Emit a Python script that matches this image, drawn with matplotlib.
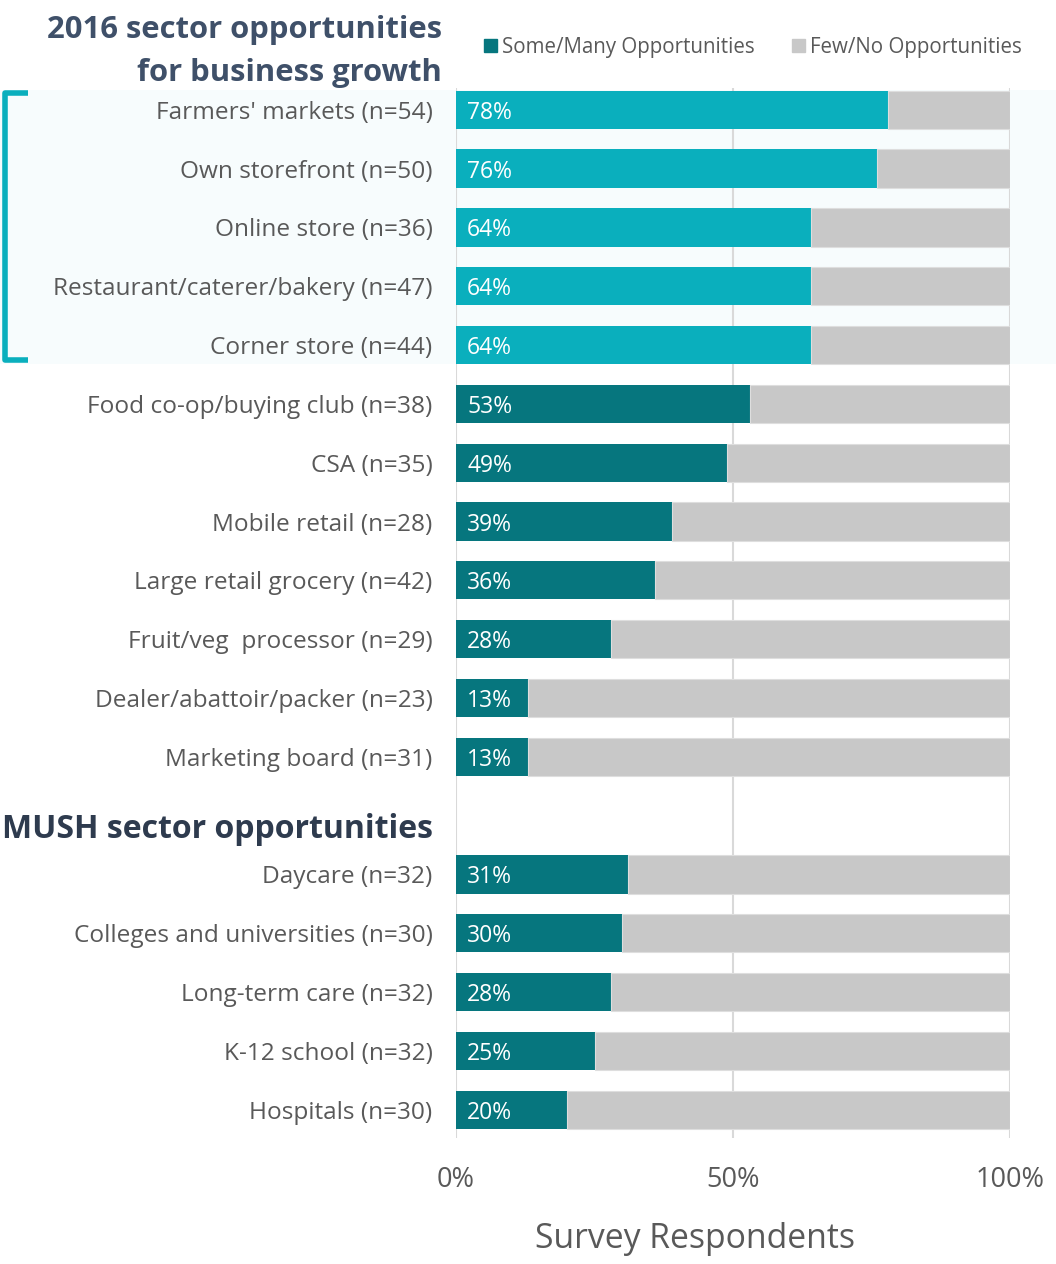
import matplotlib
matplotlib.use("Agg")
import matplotlib.pyplot as plt
from matplotlib.patches import Rectangle
from matplotlib.lines import Line2D

plt.rcParams['font.family'] = ['Open Sans', 'DejaVu Sans']

# ---- data ----
retail_labels = ["Farmers' markets (n=54)", "Own storefront (n=50)", "Online store (n=36)",
                 "Restaurant/caterer/bakery (n=47)", "Corner store (n=44)",
                 "Food co-op/buying club (n=38)", "CSA (n=35)", "Mobile retail (n=28)",
                 "Large retail grocery (n=42)", "Fruit/veg  processor (n=29)",
                 "Dealer/abattoir/packer (n=23)", "Marketing board (n=31)"]
retail_values = [78, 76, 64, 64, 64, 53, 49, 39, 36, 28, 13, 13]
mush_labels = ["Daycare (n=32)", "Colleges and universities (n=30)", "Long-term care (n=32)",
               "K-12 school (n=32)", "Hospitals (n=30)"]
mush_values = [31, 30, 28, 25, 20]
highlight_count = 5
series_names = ["Some/Many Opportunities", "Few/No Opportunities"]
x_ticks = [0, 50, 100]
x_ticklabels = ["0%", "50%", "100%"]

LIGHT = "#0aafbd"
DARK = "#06767e"
GRAY = "#c8c8c8"
TXT = "#595959"
TITLE = "#3f5069"
HEAD = "#2e3b4e"
BAND = "#f7fcfd"

W, H = 1056, 1264
fig = plt.figure(figsize=(W / 100, H / 100), dpi=100)

def fx(px):
    return px / W

def fy(py):
    return 1 - py / H

ax_left, ax_right, ax_top, ax_bot = 456, 1010, 88, 1138
ax = fig.add_axes([fx(ax_left), fy(ax_bot), fx(ax_right - ax_left), fy(ax_top) - fy(ax_bot)])
ax.set_zorder(2)

# highlight band behind everything (figure-level)
band_top, band_bot = 90, 364
fig.patches.append(Rectangle((0, fy(band_bot)), 1, fy(band_top) - fy(band_bot),
                             transform=fig.transFigure, facecolor=BAND, edgecolor='none', zorder=-5))
ax.set_facecolor('none')

labels = retail_labels + [""] + mush_labels
values = retail_values + [None] + mush_values
ypos = list(range(len(labels)))
bh = 0.65

for i, (lab, v) in enumerate(zip(labels, values)):
    if v is None:
        continue
    col = LIGHT if i < highlight_count else DARK
    ax.barh(i, v, height=bh, color=col, edgecolor='none', zorder=3)
    ax.barh(i, 100 - v, left=v, height=bh, color=GRAY, edgecolor='#dedede', linewidth=0.8, zorder=3)
    ax.text(2, i, f"{v}%", color='white', fontsize=16.5, va='center_baseline', ha='left', zorder=4)

ax.set_xlim(0, 100)
ax.set_ylim(len(labels) - 1 + 0.48, -0.37)
ax.set_yticks([y for y, v in zip(ypos, values) if v is not None])
ax.set_yticklabels([l for l, v in zip(labels, values) if v is not None], fontsize=17.6, color=TXT)
ax.tick_params(axis='y', length=0, pad=17)
ax.set_xticks(x_ticks)
ax.set_xticklabels(x_ticklabels, fontsize=19.5, color=TXT)
ax.tick_params(axis='x', length=0, pad=20)
for s in ax.spines.values():
    s.set_visible(False)
ax.xaxis.grid(True, color='#d9d9d9', linewidth=1.5, zorder=0)
ax.set_axisbelow(True)

# titles
fig.text(fx(442), fy(30), "2016 sector opportunities", ha='right', va='center',
         fontsize=22.3, fontweight='bold', color=TITLE)
fig.text(fx(442), fy(73), "for business growth", ha='right', va='center',
         fontsize=22.3, fontweight='bold', color=TITLE)
fig.text(fx(433), fy(829), "MUSH sector opportunities", ha='right', va='center',
         fontsize=23, fontweight='bold', color=HEAD)

# x label
fig.text(fx(695), fy(1239), "Survey Respondents", ha='center', va='center', fontsize=24.3, color=TXT)

# legend
handles = [Rectangle((0, 0), 1, 1, color=DARK), Rectangle((0, 0), 1, 1, color=GRAY)]
fig.legend(handles, series_names, loc='center left', bbox_to_anchor=(fx(476), fy(47)),
           ncol=2, frameon=False, fontsize=14.8, labelcolor=TXT, handlelength=0.6,
           handleheight=0.6, handletextpad=0.25, columnspacing=1.85, borderaxespad=0)

# bracket
bx0, bx1, by0, by1 = 5, 28, 93, 360
fig.add_artist(Line2D([fx(bx1), fx(bx0), fx(bx0), fx(bx1)], [fy(by0), fy(by0), fy(by1), fy(by1)],
                      transform=fig.transFigure, color=LIGHT, linewidth=4, solid_joinstyle='round',
                      solid_capstyle='butt'))

fig.savefig("out.png", dpi=100)
